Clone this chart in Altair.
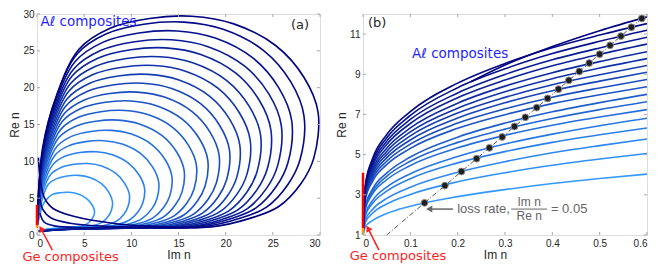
import altair as alt
import pandas as pd

# ---------------- panel (a): Al composite loops, (Im n, Re n)
loop_a00 = [(0, 1.0), (0.6, 4.03), (1.0, 4.8), (1.59, 5.48), (2.44, 5.74), (3.36, 5.8), (4.27, 5.6), (5.19, 5.02), (5.8, 4.18), (6.1, 3.25), (6.01, 2.58), (5.73, 2.01), (5.25, 1.48), (4.64, 1.22), (3.78, 1.1), (2.44, 0.95), (0.92, 0.78), (0.2, 0.5)]
loop_a01 = [(0, 1.0), (0.6, 5.06), (1.2, 6.89), (2.08, 7.65), (3.2, 8.02), (4.4, 8.1), (5.6, 7.82), (6.8, 7.01), (7.6, 5.83), (8.0, 4.54), (7.88, 3.34), (7.52, 2.49), (6.88, 1.71), (6.08, 1.32), (4.96, 1.1), (3.2, 0.95), (1.2, 0.78), (0.2, 0.5)]
loop_a02 = [(0, 1.0), (0.6, 5.78), (1.47, 8.25), (2.55, 9.17), (3.92, 9.6), (5.39, 9.7), (6.86, 9.36), (8.33, 8.39), (9.31, 6.98), (9.8, 5.43), (9.65, 3.87), (9.21, 2.83), (8.43, 1.87), (7.45, 1.39), (6.08, 1.1), (3.92, 0.95), (1.47, 0.78), (0.2, 0.5)]
loop_a03 = [(0, 1.0), (0.6, 6.33), (1.71, 9.61), (2.96, 10.68), (4.56, 11.19), (6.27, 11.3), (7.98, 10.9), (9.69, 9.77), (10.83, 8.14), (11.4, 6.33), (11.23, 4.4), (10.72, 3.16), (9.8, 2.03), (8.66, 1.46), (7.07, 1.1), (4.56, 0.95), (1.71, 0.78), (0.2, 0.5)]
loop_a04 = [(0, 1.0), (0.6, 6.81), (1.94, 10.88), (3.35, 12.1), (5.16, 12.67), (7.1, 12.8), (9.03, 12.35), (10.97, 11.07), (12.26, 9.22), (12.9, 7.17), (12.71, 4.89), (12.13, 3.48), (11.09, 2.18), (9.8, 1.53), (8.0, 1.1), (5.16, 0.95), (1.94, 0.78), (0.2, 0.5)]
loop_a05 = [(0, 1.0), (0.6, 7.24), (1.0, 9.09), (2.15, 12.07), (3.72, 13.42), (5.72, 14.06), (7.87, 14.2), (10.01, 13.7), (12.16, 12.28), (13.59, 10.22), (14.3, 7.95), (14.09, 5.36), (13.44, 3.77), (12.3, 2.32), (10.87, 1.59), (8.87, 1.1), (5.72, 0.95), (2.15, 0.78), (0.2, 0.5)]
loop_a06 = [(0, 1.0), (0.6, 7.63), (1.09, 9.98), (2.34, 13.26), (4.06, 14.74), (6.24, 15.44), (8.58, 15.6), (10.92, 15.05), (13.26, 13.49), (14.82, 11.23), (15.6, 8.74), (15.37, 5.82), (14.66, 4.07), (13.42, 2.46), (11.86, 1.66), (9.67, 1.1), (6.24, 0.95), (2.34, 0.78), (0.2, 0.5)]
loop_a07 = [(0, 1.0), (0.6, 8.0), (1.18, 10.82), (2.54, 14.37), (4.39, 15.97), (6.76, 16.73), (9.3, 16.9), (11.83, 16.31), (14.37, 14.62), (16.06, 12.17), (16.9, 9.46), (16.65, 6.25), (15.89, 4.34), (14.53, 2.59), (12.84, 1.72), (10.48, 1.1), (6.76, 0.95), (2.54, 0.78), (0.2, 0.5)]
loop_a08 = [(0, 1.0), (0.6, 8.38), (1.27, 11.65), (2.72, 15.47), (4.71, 17.2), (7.24, 18.02), (9.96, 18.2), (12.67, 17.56), (15.39, 15.74), (17.2, 13.1), (18.1, 10.19), (17.83, 6.68), (17.01, 4.61), (15.57, 2.72), (13.76, 1.77), (11.22, 1.1), (7.24, 0.95), (2.72, 0.78), (0.2, 0.5)]
loop_a09 = [(0, 1.0), (0.6, 8.74), (1.35, 12.42), (2.9, 16.49), (5.02, 18.33), (7.72, 19.21), (10.62, 19.4), (13.51, 18.72), (16.41, 16.78), (18.34, 13.97), (19.3, 10.86), (19.01, 7.07), (18.14, 4.86), (16.6, 2.84), (14.67, 1.83), (11.97, 1.1), (7.72, 0.95), (2.9, 0.78), (0.2, 0.5)]
loop_a10 = [(0, 1.0), (0.6, 9.1), (1.43, 13.18), (3.06, 17.51), (5.3, 19.47), (8.16, 20.39), (11.22, 20.6), (14.28, 19.88), (17.34, 17.82), (19.38, 14.83), (20.4, 11.54), (20.09, 7.47), (19.18, 5.12), (17.54, 2.96), (15.5, 1.88), (12.65, 1.1), (8.16, 0.95), (3.06, 0.78), (0.2, 0.5)]
loop_a11 = [(0, 1.0), (0.6, 9.44), (1.51, 13.95), (3.23, 18.53), (5.59, 20.6), (8.6, 21.58), (11.83, 21.8), (15.05, 21.04), (18.28, 18.86), (20.43, 15.7), (21.5, 12.21), (21.18, 7.86), (20.21, 5.37), (18.49, 3.08), (16.34, 1.94), (13.33, 1.1), (8.6, 0.95), (3.23, 0.78), (0.2, 0.5)]
loop_a12 = [(0, 1.0), (0.6, 9.78), (1.58, 14.72), (3.39, 19.55), (5.88, 21.74), (9.04, 22.77), (12.43, 23.0), (15.82, 22.2), (19.21, 19.9), (21.47, 16.56), (22.6, 12.88), (22.26, 8.26), (21.24, 5.62), (19.44, 3.2), (17.18, 1.99), (14.01, 1.1), (9.04, 0.95), (3.39, 0.78), (0.2, 0.5)]
loop_a13 = [(0, 1.0), (0.6, 10.12), (1.66, 15.49), (3.56, 20.57), (6.16, 22.87), (9.48, 23.96), (13.04, 24.2), (16.59, 23.35), (20.15, 20.93), (22.52, 17.42), (23.7, 13.55), (23.34, 8.66), (22.28, 5.87), (20.38, 3.32), (18.01, 2.04), (14.69, 1.1), (9.48, 0.95), (3.56, 0.78), (0.2, 0.5)]
loop_a14 = [(0, 1.0), (0.6, 10.5), (1.74, 16.26), (3.72, 21.59), (6.45, 24.0), (9.92, 25.15), (13.64, 25.4), (17.36, 24.51), (21.08, 21.97), (23.56, 18.29), (24.8, 14.22), (24.43, 9.05), (23.31, 6.12), (21.33, 3.44), (18.85, 2.1), (15.38, 1.1), (9.92, 0.95), (3.72, 0.78), (0.2, 0.5)]
loop_a15 = [(0, 1.0), (0.6, 10.84), (1.81, 16.96), (3.89, 22.53), (6.73, 25.04), (10.36, 26.24), (14.25, 26.5), (18.13, 25.57), (22.02, 22.92), (24.61, 19.08), (25.9, 14.84), (25.51, 9.42), (24.35, 6.36), (22.27, 3.55), (19.68, 2.15), (16.06, 1.1), (10.36, 0.95), (3.89, 0.78), (0.2, 0.5)]
loop_a16 = [(0, 1.0), (0.6, 11.19), (1.89, 17.73), (4.05, 23.55), (7.02, 26.18), (10.8, 27.42), (14.85, 27.7), (18.9, 26.73), (22.95, 23.96), (25.65, 19.94), (27.0, 15.51), (26.6, 9.81), (25.38, 6.61), (23.22, 3.67), (20.52, 2.2), (16.74, 1.1), (10.0, 0.95), (5.0, 1.0), (2.0, 1.2), (0.8, 1.7), (0.3, 3.0)]
loop_a17 = [(0, 1.0), (0.6, 11.52), (1.98, 18.5), (4.25, 24.57), (7.36, 27.31), (11.32, 28.61), (15.57, 28.9), (19.81, 27.89), (24.06, 25.0), (26.89, 20.81), (28.3, 16.18), (27.88, 10.21), (26.6, 6.86), (24.34, 3.79), (21.51, 2.26), (17.55, 1.1), (12.0, 1.05), (7.0, 1.2), (3.5, 1.6), (1.5, 2.3), (0.6, 3.5), (0.25, 5.5)]
loop_a18 = [(0, 1.0), (0.6, 11.86), (2.09, 19.01), (4.47, 25.25), (7.75, 28.07), (11.92, 29.4), (16.39, 29.7), (20.86, 28.66), (25.33, 25.69), (28.31, 21.38), (29.8, 16.63), (29.35, 10.47), (28.01, 7.03), (25.63, 3.87), (22.65, 2.29), (18.48, 1.1), (12.0, 1.2), (8.0, 1.6), (4.0, 2.5), (1.7, 3.6), (0.8, 5.0), (0.35, 7.4), (0.15, 10.5)]

# ---------------- panel (b): zoom on small Im n
b_im = [0, 0.005, 0.02, 0.05, 0.1, 0.2, 0.3, 0.4, 0.5, 0.6]
b00_re = [1.0, 1.41, 1.72, 2.07, 2.43, 2.91, 3.26, 3.56, 3.81, 4.03]
b01_re = [1.0, 1.63, 2.08, 2.54, 3.02, 3.65, 4.10, 4.47, 4.78, 5.06]
b02_re = [1.0, 1.74, 2.27, 2.82, 3.38, 4.12, 4.65, 5.09, 5.45, 5.78]
b03_re = [1.0, 1.95, 2.57, 3.18, 3.80, 4.59, 5.15, 5.61, 5.99, 6.33]
b04_re = [1.0, 2.04, 2.71, 3.38, 4.05, 4.91, 5.53, 6.02, 6.44, 6.81]
b05_re = [1.0, 2.29, 3.03, 3.75, 4.46, 5.34, 5.96, 6.46, 6.87, 7.24]
b06_re = [1.0, 2.37, 3.15, 3.92, 4.67, 5.61, 6.27, 6.80, 7.24, 7.63]
b07_re = [1.0, 2.44, 3.28, 4.08, 4.88, 5.87, 6.57, 7.13, 7.59, 8.0]
b08_re = [1.0, 2.76, 3.66, 4.50, 5.31, 6.31, 6.99, 7.54, 7.98, 8.38]
b09_re = [1.0, 2.84, 3.79, 4.67, 5.52, 6.57, 7.28, 7.86, 8.32, 8.74]
b10_re = [1.0, 2.93, 3.92, 4.84, 5.73, 6.82, 7.58, 8.18, 8.66, 9.1]
b11_re = [1.0, 3.01, 4.04, 5.0, 5.93, 7.07, 7.85, 8.48, 8.98, 9.44]
b12_re = [1.0, 3.09, 4.16, 5.16, 6.13, 7.31, 8.13, 8.78, 9.31, 9.78]
b13_re = [1.0, 3.17, 4.28, 5.32, 6.33, 7.56, 8.41, 9.08, 9.63, 10.12]
b14_re = [1.0, 3.26, 4.42, 5.50, 6.55, 7.83, 8.71, 9.42, 9.99, 10.5]
b15_re = [1.0, 3.34, 4.54, 5.66, 6.75, 8.07, 8.99, 9.72, 10.31, 10.84]
b16_re = [1.0, 3.43, 4.67, 5.83, 6.95, 8.33, 9.27, 10.03, 10.64, 11.19]
b17_re = [1.0, 3.50, 4.79, 5.99, 7.14, 8.56, 9.54, 10.32, 10.95, 11.52]
b18_im = [0.228, 0.3, 0.4, 0.5, 0.6]
b18_re = [8.63, 9.46, 10.38, 11.17, 11.86]

# points where loss rate Im n / Re n = 0.05
dot_im = [0.13, 0.173, 0.208, 0.24, 0.267, 0.294, 0.32, 0.343, 0.367, 0.39, 0.413, 0.435, 0.457, 0.478, 0.5, 0.522, 0.545, 0.567, 0.589]
dot_re = [2.6, 3.46, 4.16, 4.8, 5.34, 5.88, 6.4, 6.86, 7.34, 7.8, 8.26, 8.7, 9.14, 9.56, 10.0, 10.44, 10.9, 11.34, 11.78]
loss_im = [0.05, 0.6]
loss_re = [1.0, 12.0]

# Ge composites: segment on the Im n = 0 axis
ge_part = ["low", "high"]
ge_lo = [1.0, 1.35]
ge_hi = [1.35, 4.1]

# ticks
a_ticks = [0, 5, 10, 15, 20, 25, 30]
b_xticks = [0, 0.1, 0.2, 0.3, 0.4, 0.5, 0.6]
b_yticks = [1, 3, 5, 7, 9, 11]

# ---------------- styling
FONT = "Liberation Sans"
AFONT = "DejaVu Sans"
AX = "#262626"
BOX = "#a8a8a8"
BLUE = "#1f1fff"
RED = "#ff1f1f"
GRAY = "#666666"
W_A, W_B, H = 283, 284, 221

a_loops = [loop_a00, loop_a01, loop_a02, loop_a03, loop_a04, loop_a05, loop_a06, loop_a07, loop_a08, loop_a09,
           loop_a10, loop_a11, loop_a12, loop_a13, loop_a14, loop_a15, loop_a16, loop_a17, loop_a18]
rows = []
for k, pts in enumerate(a_loops):
    for j, (im, re) in enumerate(pts):
        rows.append({"k": k, "j": j, "im": im, "re": re})
df_a = pd.DataFrame(rows)

b_curves = [b00_re, b01_re, b02_re, b03_re, b04_re, b05_re, b06_re, b07_re, b08_re, b09_re,
            b10_re, b11_re, b12_re, b13_re, b14_re, b15_re, b16_re, b17_re]
rows = []
for k, vals in enumerate(b_curves):
    for j, (im, re) in enumerate(zip(b_im, vals)):
        rows.append({"k": k, "j": j, "im": im, "re": re})
for j, (im, re) in enumerate(zip(b18_im, b18_re)):
    rows.append({"k": 18, "j": j, "im": im, "re": re})
df_b = pd.DataFrame(rows)

df_dots = pd.DataFrame({"im": dot_im, "re": dot_re})
df_loss = pd.DataFrame({"im": loss_im, "re": loss_re})
df_ge = pd.DataFrame({"part": ge_part, "lo": ge_lo, "hi": ge_hi, "im": [0, 0]})

color = alt.Color("k:Q", scale=alt.Scale(domain=[0, 18], range=["#3399ff", "#000080"], interpolate="rgb"), legend=None)
ge_color = alt.Color("part:N", scale=alt.Scale(domain=["low", "high"], range=["#ff9a00", "#ff0000"]), legend=None)


def axis(values, title, expr, title_x=None):
    kw = dict(values=values, title=title, ticks=False, domain=False, grid=False,
              labelFont=FONT, labelFontSize=10, labelColor=AX, labelPadding=3,
              labelExpr=expr, titleFont=FONT, titleFontSize=12, titleFontWeight="normal",
              titleColor=AX, titlePadding=1)
    if title_x is not None:
        kw["titleX"] = title_x
    return alt.Axis(**kw)


class Panel:
    def __init__(self, sx, sy, ax, ay, W):
        self.sx, self.sy, self.ax, self.ay, self.W = sx, sy, ax, ay, W

    def X(self, f="im"):
        return alt.X(f + ":Q", scale=self.sx, axis=self.ax, title=self.ax.title)

    def Y(self, f="re"):
        return alt.Y(f + ":Q", scale=self.sy, axis=self.ay, title=self.ay.title)

    def ticks(self, xvals, yvals):
        tx = pd.DataFrame({"im": xvals})
        ty = pd.DataFrame({"re": yvals})
        base = dict(color=BOX, strokeWidth=1)
        return [
            alt.Chart(tx).mark_rule(**base).encode(x=self.X(), y=alt.value(H), y2=alt.value(H - 3)),
            alt.Chart(tx).mark_rule(**base).encode(x=self.X(), y=alt.value(0), y2=alt.value(3)),
            alt.Chart(ty).mark_rule(**base).encode(y=self.Y(), x=alt.value(0), x2=alt.value(3)),
            alt.Chart(ty).mark_rule(**base).encode(y=self.Y(), x=alt.value(self.W), x2=alt.value(self.W - 3)),
        ]

    def label(self, im, re, t, **mk):
        return alt.Chart(pd.DataFrame({"im": [im], "re": [re], "t": [t]})).mark_text(**mk).encode(
            x=self.X(), y=self.Y(), text="t:N")

    def arrow(self, tail, tip, col, angle, shape="triangle-up"):
        line = alt.Chart(pd.DataFrame({"im": [tail[0], tip[0]], "re": [tail[1], tip[1]]})).mark_line(
            color=col, strokeWidth=1.5).encode(x=self.X(), y=self.Y())
        head = alt.Chart(pd.DataFrame({"im": [tip[0]], "re": [tip[1]]})).mark_point(
            shape=shape, filled=True, color=col, size=50, angle=angle, opacity=1).encode(
            x=self.X(), y=self.Y())
        return [line, head]


# ---------------- panel (a)
pa = Panel(alt.Scale(domain=[0, 30], nice=False, zero=False),
           alt.Scale(domain=[0, 30], nice=False, zero=False),
           axis(a_ticks, "Im n", "datum.label"), axis(a_ticks, "Re n", "datum.label"), W_A)

loops_a = alt.Chart(df_a).mark_line(interpolate="catmull-rom", strokeWidth=1.6, clip=True).encode(
    x=pa.X(), y=pa.Y(), color=color, detail="k:N", order="j:Q")

ge_a = alt.Chart(df_ge).mark_rule(strokeWidth=2.5).encode(
    x=pa.X(), y=pa.Y("lo"), y2="hi:Q", color=ge_color)

panel_a = alt.layer(
    loops_a, ge_a, *pa.ticks(a_ticks, a_ticks),
    pa.label(0.36, 28.9, "Aℓ composites", align="left", baseline="middle", font=AFONT, fontSize=13.5, color=BLUE),
    pa.label(28.85, 28.5, "(a)", align="right", baseline="middle", font=AFONT, fontSize=13, color=AX),
    pa.label(-1.55, -2.95, "Ge composites", align="left", baseline="middle", font=AFONT, fontSize=13, color=RED),
    *pa.arrow((1.63, -2.05), (0.42, 0.85), RED, 330),
).properties(width=W_A, height=H)

# ---------------- panel (b)
pb = Panel(alt.Scale(domain=[0, 0.6], nice=False, zero=False),
           alt.Scale(domain=[1, 12], nice=False, zero=False),
           axis(b_xticks, "Im n", "datum.value == 0 ? '0' : format(datum.value, '.1f')", 132),
           axis(b_yticks, "Re n", "datum.label"), W_B)

curves_b = alt.Chart(df_b).mark_line(interpolate="monotone", strokeWidth=1.6, clip=True).encode(
    x=pb.X(), y=pb.Y(), color=color, detail="k:N", order="j:Q")

loss_line = alt.Chart(df_loss).mark_line(color="#555555", strokeWidth=1, strokeDash=[5, 2, 1, 2]).encode(
    x=pb.X(), y=pb.Y())

dots = alt.Chart(df_dots).mark_point(filled=True, size=46, fill="#1e1e1e", stroke="#8c8c8c",
                                     strokeWidth=1, opacity=1).encode(x=pb.X(), y=pb.Y())

ge_b = alt.Chart(df_ge).mark_rule(strokeWidth=2.5).encode(
    x=pb.X(), y=pb.Y("lo"), y2="hi:Q", color=ge_color)

frac_bar = alt.Chart(pd.DataFrame({"im": [0.313], "im2": [0.389], "re": [2.29]})).mark_rule(
    color=GRAY, strokeWidth=1).encode(x=pb.X(), x2="im2:Q", y=pb.Y())

panel_b = alt.layer(
    curves_b, loss_line, dots, ge_b, *pb.ticks(b_xticks, b_yticks),
    pb.label(0.1036, 10.0, "Aℓ composites", align="left", baseline="middle", font=AFONT, fontSize=13.5, color=BLUE),
    pb.label(0.0106, 11.55, "(b)", align="left", baseline="middle", font=AFONT, fontSize=13, color=AX),
    pb.label(-0.028, -0.07, "Ge composites", align="left", baseline="middle", font=AFONT, fontSize=13, color=RED),
    *pb.arrow((0.0338, 0.25), (0.0105, 1.33), RED, 331),
    pb.label(0.199, 2.29, "loss rate,", align="left", baseline="middle", font=FONT, fontSize=13, color=GRAY),
    pb.label(0.351, 2.64, "Im n", align="center", baseline="middle", font=FONT, fontSize=12, color=GRAY),
    pb.label(0.351, 1.95, "Re n", align="center", baseline="middle", font=FONT, fontSize=12, color=GRAY),
    frac_bar,
    pb.label(0.397, 2.29, "= 0.05", align="left", baseline="middle", font=FONT, fontSize=13, color=GRAY),
    *pb.arrow((0.19, 2.29), (0.14, 2.29), GRAY, 0, shape="triangle-left"),
).properties(width=W_B, height=H)

chart = alt.hconcat(panel_a, panel_b, spacing=14).properties(padding=0).configure_view(
    stroke=BOX, strokeWidth=1).configure(background="white")

chart.save("out.html", embed_options={"renderer": "svg", "actions": False})
